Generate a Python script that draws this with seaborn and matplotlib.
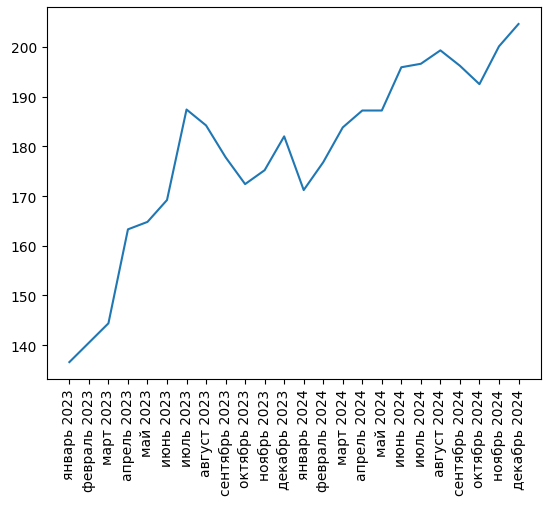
import matplotlib
matplotlib.use("Agg")
import matplotlib.pyplot as plt
import seaborn as sns
import pandas as pd

months = [
    "январь 2023", "февраль 2023", "март 2023", "апрель 2023", "май 2023", "июнь 2023",
    "июль 2023", "август 2023", "сентябрь 2023", "октябрь 2023", "ноябрь 2023", "декабрь 2023",
    "январь 2024", "февраль 2024", "март 2024", "апрель 2024", "май 2024", "июнь 2024",
    "июль 2024", "август 2024", "сентябрь 2024", "октябрь 2024", "ноябрь 2024", "декабрь 2024",
]
values = [
    136.6, 140.5, 144.4, 163.3, 164.8, 169.2,
    187.4, 184.2, 177.8, 172.4, 175.2, 182.0,
    171.2, 176.8, 183.8, 187.2, 187.2, 195.9,
    196.6, 199.3, 196.2, 192.5, 200.1, 204.6,
]

df = pd.DataFrame({"month": months, "value": values})

fig, ax = plt.subplots(figsize=(5.52, 5.06), dpi=100)
sns.lineplot(data=df, x="month", y="value", sort=False, ax=ax)
ax.set_xlabel("")
ax.set_ylabel("")
ax.tick_params(axis="x", rotation=90)
fig.subplots_adjust(left=0.085, right=0.98, top=0.984, bottom=0.249)
fig.savefig("out.png", dpi=100)
